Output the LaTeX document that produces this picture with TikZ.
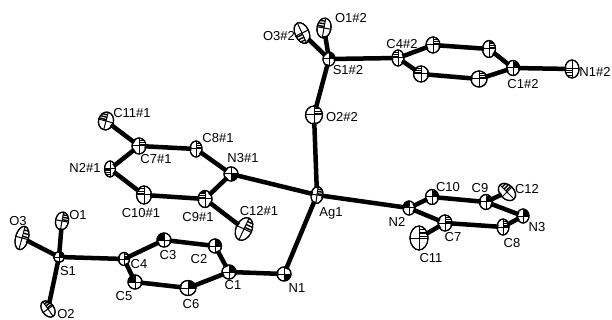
\documentclass[tikz,border=0pt]{standalone}
\usepackage{fontspec}
\setmainfont{Liberation Sans}
\usetikzlibrary{shapes.geometric}
\tikzset{
  atomnode/.style={ellipse,draw=black,fill=white,line width=1.1pt,inner sep=0pt},
  bond/.style={line width=4.5pt,black,shorten >=-2pt,shorten <=-2pt},
  atomlabel/.style={inner sep=0pt,font=\fontsize{13}{14}\selectfont,text=black},
  axisline/.style={line width=1pt,black},
  hatchline/.style={line width=1.4pt,black}
}
% name / x / y / rx / ry / rot / sx / sy (sx, sy pick the hatched quadrant)
\def\atomdata{%
Othree/22/238/6.5/12/-15/1/1,
Oone/62/221/6.5/9/-10/1/1,
Sone/59/257/5.5/5.5/0/1/1,
Otwo/48/309/6/9/35/1/1,
Cfour/124/259/5.5/6.5/0/1/1,
Cthree/164/240/7/7/0/-1/1,
Ctwo/215/246/6.5/7/0/1/1,
Cone/229/272/7/7/0/1/1,
None/284/274/7/7/0/1/-1,
Csix/188/288/8/7.5/0/1/1,
Cfive/135/282/7/7/0/-1/1,
Ntwoa/110/169/5.5/8/0/-1/-1,
Ctena/144/195/7.5/9/0/-1/1,
Cninea/205/199/7/8.5/0/-1/1,
Nthreea/231/174/7/7/0/1/-1,
Celevena/106/121/7.5/9/-15/-1/1,
Csevena/139/146/7/8/0/1/1,
Ceighta/196/149/6/8/0/1/1,
Ctwelvea/244/229/8/12/-25/1/1,
Oonec/324/28/7/10/-10/-1/1,
Othreec/302/33/7/11/25/-1/-1,
Sonec/329/59/6/7/0/1/1,
Otwoc/314/115/8.5/9/0/1/1,
Cfourc/398/58/6/8/0/-1/1,
Cthreec/433/45/7/8/0/1/1,
Ctwoc/489/49/6.5/8.5/0/1/1,
Conec/513/68/6.5/7.5/0/1/1,
Nonec/572/69/7/9/0/-1/-1,
Csixc/479/79/8/8/0/1/1,
Cfivec/421/74/7.5/8/0/-1/1,
Agone/317/195/6/8.5/-8/1/1,
Ntwo/409/208/6/7/0/-1/1,
Cten/432/197/6.5/7.5/0/1/1,
Cnine/486/202/6.5/7.5/0/1/1,
Ctwelve/507/192/7/10/45/1/1,
Nthree/523/216/6/7/0/1/1,
Ceight/503/227/6/8/0/1/1,
Cseven/445/223/7/8/0/1/1,
Celeven/419/238/9/12/0/1/1}
\begin{document}
\begin{tikzpicture}[x=1pt,y=-1pt]
\useasboundingbox (0,0) rectangle (612,320);
\foreach \n/\x/\y/\rx/\ry/\r/\sx/\sy in \atomdata
  {\node[atomnode,minimum width=2*\rx*1pt,minimum height=2*\ry*1pt,rotate=\r] (\n) at (\x,\y) {};}
\foreach \a/\b in {Sone/Oone,Sone/Otwo,Sone/Othree,Sone/Cfour,Cfour/Cthree,Cthree/Ctwo,Ctwo/Cone,Cone/Csix,Csix/Cfive,Cfive/Cfour,Cone/None,None/Agone,Agone/Nthreea,Nthreea/Ceighta,Ceighta/Csevena,Csevena/Celevena,Csevena/Ntwoa,Ntwoa/Ctena,Ctena/Cninea,Cninea/Nthreea,Cninea/Ctwelvea,Agone/Otwoc,Otwoc/Sonec,Sonec/Oonec,Sonec/Othreec,Sonec/Cfourc,Cfourc/Cthreec,Cthreec/Ctwoc,Ctwoc/Conec,Conec/Csixc,Csixc/Cfivec,Cfivec/Cfourc,Conec/Nonec,Agone/Ntwo,Ntwo/Cten,Cten/Cnine,Cnine/Ctwelve,Cnine/Nthree,Nthree/Ceight,Ceight/Cseven,Cseven/Ntwo,Cseven/Celeven}
  {\draw[bond] (\a) -- (\b);}
% principal-axis cross and one hatched quadrant on each atom
\foreach \n/\x/\y/\rx/\ry/\r/\sx/\sy in \atomdata {
  \begin{scope}[shift={(\n.center)},rotate=\r]
    \begin{scope}
      \clip (0pt,0pt) ellipse [x radius=\rx*1pt,y radius=\ry*1pt];
      \draw[axisline] (-\rx*1pt,0pt) -- (\rx*1pt,0pt);
      \draw[axisline] (0pt,-\ry*1pt) -- (0pt,\ry*1pt);
      \clip (0pt,0pt) rectangle (\sx*\rx*1pt,\sy*\ry*1pt);
      \foreach \h in {.15,.42,.69,.96}
        {\draw[hatchline] (-\rx*1pt,\sy*\h*\ry*1pt) -- (\rx*1pt,\sy*\h*\ry*1pt);}
    \end{scope}
    \draw[line width=1.1pt] (0pt,0pt) ellipse [x radius=\rx*1pt,y radius=\ry*1pt];
  \end{scope}
}
\foreach \n/\x/\y/\t in {lOthree/18/221/O3,lOone/78/215/O1,lSone/68/271/S1,lOtwo/66/314/O2,lCfour/139/264/C4,lCthree/168/255/C3,lCtwo/199/259/C2,lCone/233/285/C1,lNone/297/288/N1,lCsix/191/304/C6,lCfive/124/296/C5,lCtena/141/213/C10\#1,lCninea/198/217/C9\#1,lCtwelvea/259/211/C12\#1,lNthreea/243/158/N3\#1,lCeighta/218/138/C8\#1,lCsevena/156/159/C7\#1,lNtwoa/85/168/N2\#1,lCelevena/132/113/C11\#1,lOonec/351/18/O1\#2,lOthreec/279/36/O3\#2,lSonec/348/70/S1\#2,lOtwoc/342/117/O2\#2,lCfourc/402/44/C4\#2,lConec/523/84/C1\#2,lNonec/595/72/N1\#2,lAgone/331/213/Ag1,lNtwo/397/222/N2,lCten/448/187/C10,lCnine/480/188/C9,lCtwelve/527/189/C12,lNthree/537/227/N3,lCeight/512/243/C8,lCseven/453/237/C7,lCeleven/431/258/C11}
  {\node[atomlabel] (\n) at (\x,\y) {\t};}
\end{tikzpicture}
\end{document}
